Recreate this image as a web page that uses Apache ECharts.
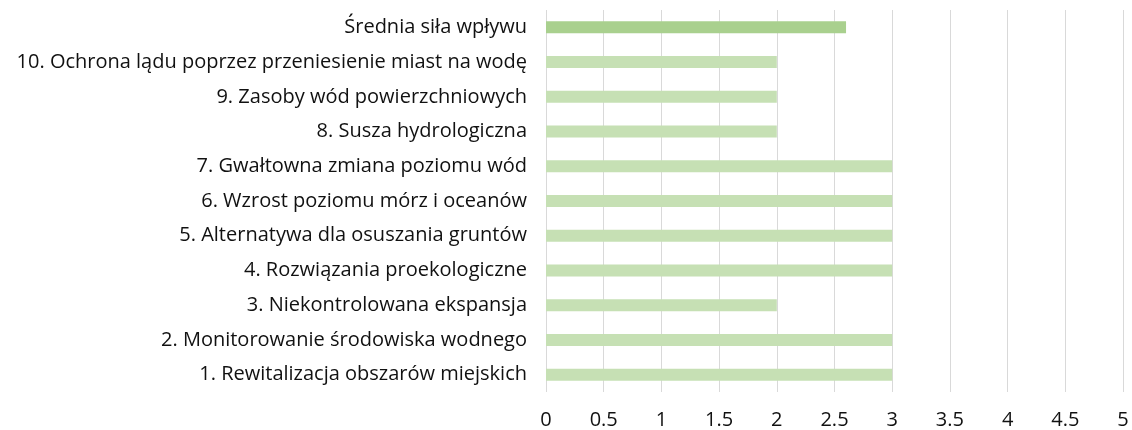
<!DOCTYPE html>
<html>
<head>
<meta charset="utf-8">
<script src="https://cdn.jsdelivr.net/npm/echarts@6/dist/echarts.min.js"></script>
<style>
html,body{margin:0;padding:0;background:#fff;}
#c{width:1132px;height:430px;}
</style>
</head>
<body>
<div id="c"></div>
<script>
const categories = [
  "Średnia siła wpływu",
  "10. Ochrona lądu poprzez przeniesienie miast na wodę",
  "9. Zasoby wód powierzchniowych",
  "8. Susza hydrologiczna",
  "7. Gwałtowna zmiana poziomu wód",
  "6. Wzrost poziomu mórz i oceanów",
  "5. Alternatywa dla osuszania gruntów",
  "4. Rozwiązania proekologiczne",
  "3. Niekontrolowana ekspansja",
  "2. Monitorowanie środowiska wodnego",
  "1. Rewitalizacja obszarów miejskich"
];
const values = [2.6, 2, 2, 2, 3, 3, 3, 3, 2, 3, 3];
const highlightIndex = 0;
const xTicks = [0, 0.5, 1, 1.5, 2, 2.5, 3, 3.5, 4, 4.5, 5];

const chart = echarts.init(document.getElementById('c'));
const font = '"Open Sans", sans-serif';
chart.setOption({
  animation: false,
  grid: {left: 546, right: 9, top: 10, bottom: 37, containLabel: false},
  xAxis: {
    type: 'value', min: 0, max: 5, interval: 0.5,
    axisLine: {show: false}, axisTick: {show: false},
    splitLine: {show: true, lineStyle: {color: '#d9d9d9', width: 1}},
    axisLabel: {
      color: '#111', fontSize: 20, fontFamily: font, margin: 18,
      formatter: v => String(xTicks.find(t => Math.abs(t - v) < 1e-9) ?? v)
    }
  },
  yAxis: {
    type: 'category', data: categories, inverse: true,
    axisLine: {show: false}, axisTick: {show: false},
    axisLabel: {color: '#111', fontSize: 20, fontFamily: font, margin: 19}
  },
  series: [{
    type: 'bar',
    barWidth: 12,
    data: values.map((v, i) => ({
      value: v,
      itemStyle: {color: i === highlightIndex ? '#a9d08e' : '#c6e0b4'}
    }))
  }]
});
</script>
</body>
</html>
